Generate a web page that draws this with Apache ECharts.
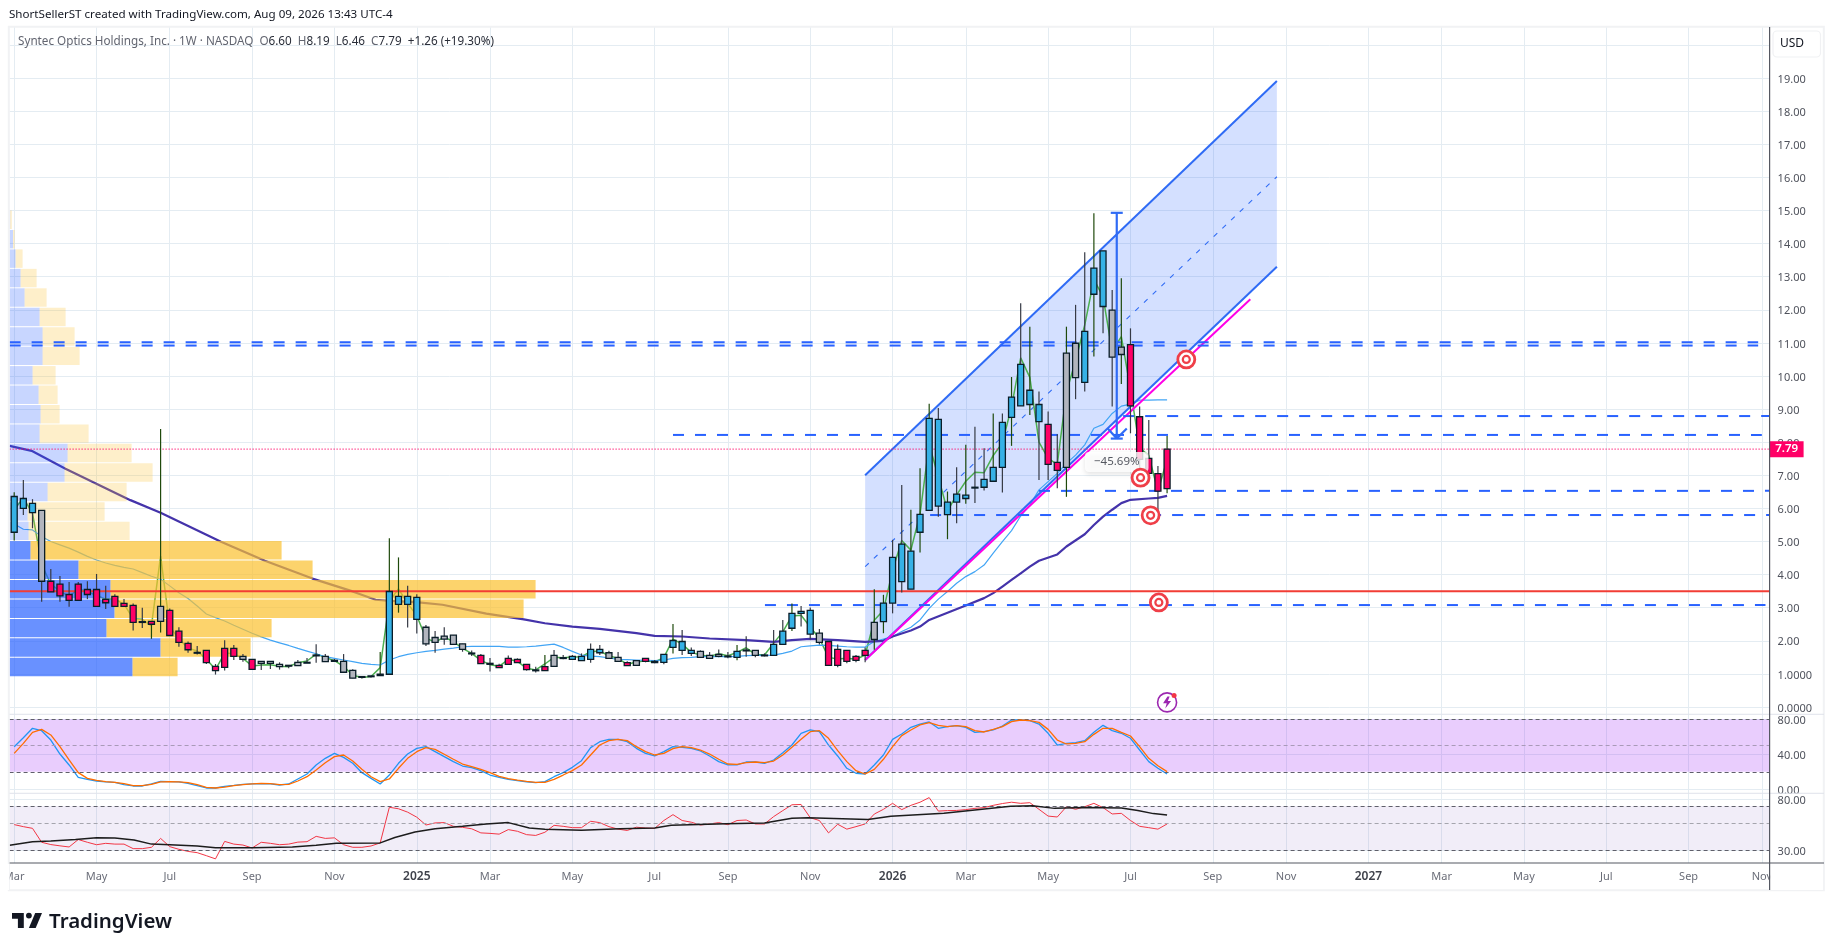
<!DOCTYPE html>
<html><head><meta charset="utf-8">
<style>html,body{margin:0;padding:0;background:#fff;overflow:hidden}#c{width:1835px;height:951px}</style>
<script src="https://cdn.jsdelivr.net/npm/echarts@6/dist/echarts.min.js"></script>
</head><body><div id="c"></div>
<script>
// Weekly bars: week 0 = 2024-03-04, week 126 = 2026-08-03
const open=[5.28,6.00,6.15,5.94,3.80,3.71,3.40,3.22,3.55,3.55,3.25,3.04,3.13,3.07,2.58,2.59,2.59,2.92,2.29,1.92,1.65,1.71,1.23,1.20,1.77,1.53,1.44,1.38,1.38,1.29,1.26,1.25,1.35,1.55,1.53,1.41,1.38,1.11,0.92,0.94,0.99,0.99,3.10,3.10,3.31,2.41,1.95,2.05,2.17,1.91,1.63,1.56,1.32,1.26,1.29,1.44,1.29,1.12,1.10,1.23,1.49,1.44,1.53,1.44,1.74,1.64,1.50,1.34,1.26,1.47,1.38,1.35,1.80,1.98,1.71,1.68,1.56,1.53,1.54,1.50,1.72,1.71,1.57,1.56,1.89,2.38,2.83,2.92,2.23,1.98,1.74,1.71,1.53,1.56,2.04,2.58,3.14,3.79,3.56,5.28,5.94,8.69,5.81,6.19,6.30,6.64,6.64,6.82,7.24,8.75,9.10,9.14,9.14,8.54,7.39,7.24,10.99,9.81,12.47,13.78,11.99,10.65,10.95,8.77,7.51,7.05,6.60];
const high=[6.49,6.86,6.28,5.94,4.17,3.96,3.78,3.78,3.80,4.02,3.66,3.41,3.26,3.13,3.00,2.59,8.40,2.98,2.41,1.98,1.84,1.71,1.30,2.02,1.87,1.60,1.44,1.38,1.38,1.35,1.26,1.42,1.48,1.90,1.60,1.45,1.60,1.14,0.92,0.94,1.66,5.10,4.52,3.66,3.41,2.48,2.30,2.41,2.17,1.91,1.71,1.60,1.48,1.31,1.56,1.47,1.29,1.22,1.57,1.72,1.57,1.57,1.62,1.92,1.87,1.70,1.66,1.38,1.42,1.47,1.42,1.60,2.51,2.33,1.80,1.71,1.66,1.74,1.66,1.87,2.14,1.71,1.62,2.33,2.63,3.13,3.05,3.01,2.36,1.98,1.89,1.71,1.57,1.80,3.56,3.39,5.05,6.71,5.96,7.21,9.16,9.03,6.51,7.24,7.92,8.47,7.82,8.87,8.87,9.97,12.20,11.49,9.53,8.93,8.24,11.49,12.15,13.74,14.92,13.78,12.60,12.95,11.44,9.08,8.67,7.28,8.19];
const low=[5.03,5.80,5.40,3.18,3.48,3.18,3.03,3.22,3.26,3.04,2.96,3.04,3.04,2.31,2.39,2.06,2.25,2.16,1.82,1.64,1.59,1.30,0.98,1.10,1.42,1.37,1.14,1.12,1.15,1.13,1.17,1.25,1.33,1.34,1.37,1.36,1.05,0.87,0.86,0.89,0.95,0.99,2.85,2.40,2.22,1.84,1.64,1.88,1.89,1.67,1.54,1.31,1.07,1.19,1.29,1.34,1.10,1.04,1.10,1.23,1.44,1.44,1.40,1.34,1.57,1.47,1.38,1.25,1.26,1.35,1.32,1.29,1.62,1.57,1.54,1.50,1.47,1.50,1.47,1.41,1.52,1.50,1.53,1.56,1.89,2.30,2.43,2.04,1.89,1.26,1.20,1.32,1.35,1.35,1.73,2.23,2.83,3.46,3.56,4.67,5.94,5.75,5.07,5.55,6.14,6.16,6.54,6.82,6.48,7.89,9.10,8.82,6.86,6.86,6.61,6.35,9.30,9.53,10.59,11.29,9.08,9.76,8.27,6.91,7.06,5.76,6.46];
const close=[6.36,6.30,5.87,3.80,3.48,3.36,3.22,3.71,3.40,3.04,3.15,3.34,3.04,2.56,2.56,2.50,3.04,2.16,1.95,1.73,1.63,1.34,1.10,1.77,1.53,1.44,1.14,1.32,1.32,1.22,1.24,1.35,1.33,1.57,1.37,1.38,1.05,0.87,0.90,0.92,0.95,3.49,3.34,3.34,2.65,1.91,2.10,2.14,1.89,1.74,1.61,1.31,1.29,1.19,1.47,1.34,1.13,1.10,1.22,1.56,1.47,1.53,1.40,1.74,1.64,1.47,1.38,1.25,1.40,1.38,1.34,1.59,2.01,1.71,1.62,1.50,1.47,1.59,1.52,1.68,1.70,1.56,1.55,1.89,2.29,2.83,2.89,2.20,1.95,1.26,1.26,1.38,1.41,1.71,2.56,3.14,4.52,4.92,4.71,5.82,8.72,6.07,6.19,6.43,6.40,6.62,6.88,7.24,8.60,9.36,10.35,9.57,8.62,7.33,7.15,10.69,9.95,11.35,13.26,12.10,10.57,10.87,9.10,7.48,7.06,6.52,7.79];
// candle body tone: 0 blue, 1 pink, 2 grey
const tone=[0,0,0,2,1,1,1,1,1,1,1,1,1,1,0,1,2,1,1,1,0,1,1,1,1,2,1,2,2,2,2,2,0,0,2,0,2,2,0,0,0,0,0,0,0,2,2,2,2,2,0,1,0,1,1,1,1,0,1,2,0,0,0,0,0,2,2,1,2,1,0,0,0,0,0,2,2,2,0,0,0,2,0,0,0,0,0,0,2,1,1,1,1,1,2,0,0,0,0,0,0,0,0,0,0,0,0,0,0,0,0,0,0,1,1,2,2,0,0,0,2,2,1,1,1,1,1];
const greenWickWeeks=[0,15,16,40,41,42,58,72,79,85,94,95,98,99,100,102,104,107,109,111,115,118,121,126];
// typical-price line
const typical=[5.96,6.32,5.85,4.31,3.71,3.50,3.34,3.57,3.49,3.37,3.26,3.26,3.11,2.67,2.65,2.45,4.56,2.43,2.06,1.78,1.69,1.45,1.13,1.63,1.61,1.47,1.24,1.27,1.28,1.23,1.22,1.34,1.39,1.60,1.50,1.40,1.23,0.96,0.89,0.92,1.19,3.19,3.57,3.13,2.76,2.08,1.96,2.11,1.98,1.77,1.62,1.41,1.28,1.23,1.44,1.38,1.17,1.12,1.30,1.50,1.49,1.51,1.52,1.67,1.69,1.55,1.47,1.29,1.36,1.40,1.36,1.49,2.05,1.90,1.65,1.57,1.53,1.61,1.55,1.65,1.79,1.59,1.57,1.93,2.27,2.75,2.77,2.42,2.07,1.50,1.45,1.47,1.44,1.57,2.62,2.92,4.13,5.03,4.74,5.83,7.94,6.95,5.92,6.41,6.82,7.09,7.08,7.60,7.98,9.07,10.55,9.96,8.00,7.51,7.33,9.51,10.47,11.54,12.92,12.39,10.75,11.19,9.60,7.82,7.60,6.52,7.48];
const fastMa=[5.53,5.37,5.35,5.15,5.00,4.90,4.80,4.68,4.55,4.44,4.35,4.28,4.22,4.17,4.06,3.95,3.86,3.66,3.45,3.28,3.05,2.81,2.70,2.60,2.47,2.35,2.23,2.12,2.02,1.94,1.86,1.77,1.69,1.61,1.52,1.47,1.42,1.37,1.32,1.29,1.27,1.42,1.52,1.59,1.64,1.68,1.71,1.75,1.78,1.82,1.83,1.83,1.83,1.83,1.81,1.81,1.82,1.84,1.87,1.90,1.80,1.68,1.57,1.54,1.52,1.48,1.44,1.43,1.42,1.41,1.40,1.42,1.47,1.49,1.50,1.52,1.52,1.52,1.52,1.53,1.55,1.56,1.56,1.57,1.62,1.69,1.82,1.85,1.87,1.86,1.84,1.82,1.81,1.81,1.98,2.05,2.13,2.28,2.41,2.63,2.98,3.26,3.49,3.74,3.94,4.09,4.29,4.65,5.00,5.33,5.77,6.10,6.56,6.81,7.06,7.36,7.61,7.92,8.42,8.54,8.87,9.09,9.15,9.27,9.27,9.28,9.28];
const slowMaWeeks=[-0.5,1.9,5.6,12.7,16,22.6,27.4,32.6,36.9,39.5,40.8,44.2,46.8,51.6,55.7,58,61,64,68,70,73,76,80,83,85,87,90,93,95,96,98,99,100,102,104,106,107,108,109,110,111,112,114,115,117,118,119,120,121,122,124,125,126];
const slowMa=[7.89,7.74,7.20,6.25,5.87,4.99,4.42,3.88,3.50,3.24,3.21,3.16,3.09,2.82,2.65,2.53,2.43,2.36,2.23,2.15,2.13,2.07,2.02,1.97,2.02,2.06,2.02,1.97,2.00,2.13,2.31,2.43,2.63,2.85,3.07,3.29,3.44,3.64,3.84,4.04,4.24,4.42,4.61,4.85,5.22,5.50,5.75,5.96,6.16,6.26,6.30,6.32,6.38];
// visible-range volume profile, price rows bottom to top
const vpFirstPrice=0.915, vpRowStep=0.5875;
const vpUp=[123,151,97,105,101,69,21,19,18,38,55,58,30,31,29,23,33,33,30,15,11,6,3.4,0.6];
const vpDown=[45,90,165,409,425,234,251,101,77,79,88,64,49,19,19,23,37,32,26,22,16,7,1.6,1.6];
const vpValueAreaRows=7;
// drawings
const channelWeeks=[93,138], channelUpper=[7.0,18.91], channelMiddle=[4.24,16.02], channelLower=[1.42,13.3];
const magentaWeeks=[93,135.1], magentaPrices=[1.42,12.32];
const levelPrices=[11.02,10.92,8.79,8.22,6.53,5.80,3.08];
const levelFrom=[-0.5,-0.5,121.2,72,112,100.1,82.05];
const levelTo=[190.6,190.6,191.85,191,191.85,191.85,191.4];
const supportPrice=3.5, lastPrice=7.79;
const targetPoints=[[128.1,10.5],[123.1,6.93],[124.2,5.79],[125.1,3.16]];
const rangeWeek=120.5, rangeTop=14.93, rangeBottom=8.11, rangeLabel='\u221245.69%', rangeLabelPrice=7.4;
// stochastic RSI
const stochK=[48.7,59.0,69.7,67.0,56.3,40.3,27.8,13.7,11.4,9.5,8.4,8.0,5.3,3.8,3.8,6.1,9.1,8.7,8.4,6.8,4.2,1.5,1.5,3.4,4.5,5.7,6.1,6.5,6.1,4.9,6.1,11.8,17.5,27.8,35.4,41.1,36.5,29.7,19.0,12.5,6.1,16.3,29.7,40.3,46.8,48.7,43.0,37.3,31.6,26.6,24.7,21.3,16.3,13.7,11.4,9.9,8.4,7.6,8.7,14.4,19.0,25.1,32.7,47.6,54.4,57.1,57.1,54.4,46.8,41.1,38.1,43.0,48.7,48.0,46.8,43.8,38.1,31.6,27.8,27.8,31.2,31.2,29.7,33.5,41.9,50.6,64.0,67.8,65.9,50.6,38.1,24.0,18.3,17.5,27.8,39.2,57.1,63.2,70.8,74.6,76.9,69.7,71.6,72.7,70.8,65.1,65.9,67.8,72.3,79.2,79.2,78.5,74.6,64.0,50.6,52.5,53.3,55.6,65.1,73.1,67.0,64.0,58.3,44.9,31.6,24.0,17.5];
const stochD=[41.1,52.5,65.1,68.5,62.1,48.7,33.5,19.0,12.5,10.2,8.7,8.0,6.5,4.2,4.2,5.7,8.4,8.7,8.4,7.6,5.3,2.3,1.5,2.6,4.2,5.3,6.1,6.8,6.5,5.3,5.7,9.5,14.4,22.1,30.4,37.3,39.2,32.3,22.8,14.4,8.7,11.8,24.0,35.4,43.0,47.6,45.7,40.0,34.3,28.9,25.9,22.8,19.0,14.8,12.2,10.6,9.1,8.0,8.0,11.4,16.3,21.3,27.8,39.2,50.6,55.6,57.1,55.6,48.7,43.0,39.2,41.1,46.5,48.7,47.6,44.9,40.3,34.3,28.9,28.5,30.4,31.2,30.4,32.3,39.2,48.0,57.1,65.9,67.0,58.3,44.2,31.6,21.3,17.5,22.8,34.3,48.7,61.3,67.8,73.5,76.2,73.1,71.6,72.7,71.6,67.0,65.5,68.5,71.6,77.3,79.2,78.5,76.5,68.5,56.3,51.8,52.5,54.4,62.8,69.7,69.7,65.1,60.9,48.7,35.4,27.0,20.2];
// RSI and its moving average (lower pane is on a log scale)
const rsi=[48.9,47.0,45.5,34.8,33.3,32.5,31.8,36.7,34.8,33.2,34.1,33.6,33.6,30.8,30.8,31.6,37.5,32.0,30.4,29.2,28.5,26.9,25.3,35.4,33.6,33.0,31.2,34.8,34.1,33.2,33.6,34.9,35.2,39.0,37.5,37.9,33.2,31.6,31.6,32.4,34.4,68.2,66.3,62.1,56.4,48.5,50.5,50.8,47.3,46.4,45.1,41.7,41.3,40.7,44.4,43.0,40.3,39.7,42.2,48.2,47.3,46.1,46.1,52.1,50.8,47.0,44.8,43.7,46.5,45.8,45.5,52.9,59.2,52.9,51.2,48.5,49.5,50.8,48.8,52.9,53.4,49.5,49.5,57.0,64.0,71.6,72.0,55.8,52.9,41.7,49.2,44.8,47.0,49.5,59.9,65.6,73.6,65.2,70.8,75.2,82.2,63.4,64.0,64.2,65.2,66.8,67.8,70.8,73.3,75.2,73.6,74.5,65.6,57.6,56.6,69.0,65.6,69.0,73.6,67.8,60.0,60.7,52.9,47.3,46.1,44.8,49.5];
const rsiMaWeeks=[-0.5,2,4,6.7,9,11,13.1,15,17,20,22,26,30.4,33,35.2,40,41.6,43.8,46,49,51.6,54,56.3,58,62,66.2,70,71.8,77.8,82,85,86.8,93.3,95.8,101.6,106.3,108.9,111.3,113.7,117.1,121,122.8,124.5,126];
const rsiMa=[32.8,35.2,35.7,36.7,38.0,37.7,36.4,33.6,33.2,32.4,31.4,31.4,31.8,32.8,34.1,34.4,38.2,42.4,45.2,47.3,49.5,50.8,45.8,44.8,43.9,45.2,45.8,48.2,49.8,50.5,55.2,55.9,53.9,57.4,60.7,66.3,69.5,70.4,66.8,67.8,67.3,64.2,60.4,58.8];
// axis ticks
const timeTickWeeks=[0,9,17,26,35,44,52,61,70,78,87,96,104,113,122,131,139,148,156,165,174,183,191];
const timeTickLabels=['Mar','May','Jul','Sep','Nov','2025','Mar','May','Jul','Sep','Nov','2026','Mar','May','Jul','Sep','Nov','2027','Mar','May','Jul','Sep','Nov'];
const priceTicks=[0,1,2,3,4,5,6,7,8,9,10,11,12,13,14,15,16,17,18,19,20];
const priceTickLabels=['0.0000','1.0000','2.00','3.00','4.00','5.00','6.00','7.00','8.00','9.00','10.00','11.00','12.00','13.00','14.00','15.00','16.00','17.00','18.00','19.00',''];
const stochTicks=[0,40,80], stochTickLabels=['0.00','40.00','80.00'];
const rsiTicks=[30,80], rsiTickLabels=['30.00','80.00'];
const headerText='ShortSellerST created with TradingView.com, Aug 09, 2026 13:43 UTC-4';
const symbolText='Syntec Optics Holdings, Inc. \u00b7 1W \u00b7 NASDAQ';
const ohlcText=[['O','6.60'],['H','8.19'],['L','6.46'],['C','7.79']], changeText='+1.26 (+19.30%)';

const FONT='"Noto Sans",sans-serif';
const BLUE='#2962ff', GRID='#e4ecf2', AXIS='#555862', LABEL='#4f525c';
const L=9.6,R=1769.6,XMIN=-0.503,XMAX=191.85;
const chart=echarts.init(document.getElementById('c'),null,{renderer:'canvas'});
const toneFill=['#36b1e6','#ff0066','#b2b5be'];
const pts=(xs,ys)=>xs.map((x,i)=>[x,ys[i]]);
const byWeek=a=>a.map((v,i)=>[i,v]);
const line=(id,data,color,width,z,extra)=>Object.assign({type:'line',name:id,data,symbol:'none',silent:true,z,
  lineStyle:{color,width},xAxisIndex:0,yAxisIndex:0,animation:false},extra||{});

function weekAxis(gridIndex,showLabels){
  return {type:'value',gridIndex,min:XMIN,max:XMAX,position:'bottom',
    axisLine:{show:false},
    axisTick:{show:false,customValues:timeTickWeeks},
    splitLine:{show:true,lineStyle:{color:GRID,width:1}},
    axisLabel:{show:showLabels,customValues:timeTickWeeks,margin:8,fontFamily:FONT,fontSize:11,color:'#6a6d78',
      showMinLabel:true,showMaxLabel:true,hideOverlap:false,
      rich:{y:{fontFamily:FONT,fontSize:12,fontWeight:600,color:'#3f424b'}},
      formatter:v=>{const s=timeTickLabels[timeTickWeeks.indexOf(v)];return /^\d/.test(s)?'{y|'+s+'}':s;}}};
}
function sideAxis(gridIndex,min,max,ticks,labels,toTick){
  const vals=toTick?ticks.map(toTick):ticks;
  return {type:'value',gridIndex,position:'right',min,max,scale:true,
    axisLine:{show:false},
    axisTick:{show:false,customValues:vals},
    splitLine:{show:true,lineStyle:{color:GRID,width:1}},
    axisLabel:{customValues:vals,margin:8,fontFamily:FONT,fontSize:11,color:LABEL,align:'left',
      showMinLabel:true,showMaxLabel:true,hideOverlap:false,
      rich:{p:{fontFamily:FONT,fontSize:11,color:LABEL,padding:[3,0,0,0]}},
      formatter:v=>{const s=labels[vals.findIndex(t=>Math.abs(t-v)<1e-6)];return s?'{p|'+s+'}':'';}}};
}
function drawCandle(p,api){
  const i=api.value(0),o=api.value(1),h=api.value(2),l=api.value(3),c=api.value(4),t=api.value(5),g=api.value(6);
  const top=api.coord([i,Math.max(o,c)]),bot=api.coord([i,Math.min(o,c)]),hi=api.coord([i,h]),lo=api.coord([i,l]);
  const x=top[0];
  return {type:'group',children:[
    {type:'line',shape:{x1:x,y1:hi[1],x2:x,y2:lo[1]},style:{stroke:g?'#1f4a0c':'#363a45',lineWidth:1.2}},
    {type:'rect',shape:{x:x-3,y:top[1],width:6,height:Math.max(bot[1]-top[1],0.8)},style:{fill:toneFill[t],stroke:'#0a1d28',lineWidth:1.3}}
  ]};
}
function drawVp(p,api){
  const low=api.value(0),high=api.value(1),up=api.value(2),down=api.value(3),dark=api.value(4);
  const a=api.coord([0,low]),b=api.coord([up,high]),c=api.coord([up+down,high]);
  const y=b[1]+0.5,h=a[1]-b[1]-1;
  return {type:'group',children:[
    {type:'rect',shape:{x:a[0],y,width:b[0]-a[0],height:h},style:{fill:dark?'rgba(41,98,255,0.7)':'rgba(41,98,255,0.26)'}},
    {type:'rect',shape:{x:b[0],y,width:c[0]-b[0],height:h},style:{fill:dark?'rgba(251,192,45,0.7)':'rgba(251,192,45,0.25)'}}
  ]};
}
function drawChannel(p,api){
  const pt=[api.coord([channelWeeks[0],channelUpper[0]]),api.coord([channelWeeks[1],channelUpper[1]]),
            api.coord([channelWeeks[1],channelLower[1]]),api.coord([channelWeeks[0],channelLower[0]])];
  return {type:'polygon',shape:{points:pt},style:{fill:'rgba(41,98,255,0.2)'}};
}
function drawRange(p,api){
  const t=api.coord([rangeWeek,rangeTop]),b=api.coord([rangeWeek,rangeBottom]),x=t[0];
  const st={stroke:'#2f6bf5',lineWidth:2.2};
  const seg=(x1,y1,x2,y2)=>({type:'line',shape:{x1,y1,x2,y2},style:st});
  return {type:'group',children:[seg(x,t[1],x,b[1]),seg(x-6,t[1],x+6,t[1]),seg(x-6,b[1],x+6,b[1]),seg(x-9,b[1]-10,x,b[1]),seg(x+10,b[1]-10,x,b[1])]};
}
const vpRows=vpUp.map((u,k)=>[vpFirstPrice+k*vpRowStep,vpFirstPrice+(k+1)*vpRowStep,u,vpDown[k],k<vpValueAreaRows?1:0]);
const candles=open.map((o,i)=>[i,o,high[i],low[i],close[i],tone[i],greenWickWeeks.includes(i)?1:0]);

const series=[
  {type:'custom',name:'channel',renderItem:drawChannel,data:[[channelWeeks[0],channelUpper[0]]],xAxisIndex:0,yAxisIndex:0,z:1,silent:true},
  line('Channel middle',pts(channelWeeks,channelMiddle),'#2f6bf5',1,1,{lineStyle:{color:'#2f6bf5',width:1.1,type:[5,7]}}),
  line('Typical',byWeek(typical),'#4caf50',1.5,2),
  line('Fast MA',byWeek(fastMa),'#42a5f5',1.2,2),
  line('Slow MA',pts(slowMaWeeks,slowMa),'#4433aa',2.2,2),
  {type:'custom',name:'Volume profile',renderItem:drawVp,data:vpRows,xAxisIndex:1,yAxisIndex:0,z:3,silent:true,encode:{x:2,y:[0,1]}},
  line('Channel upper',pts(channelWeeks,channelUpper),'#2f6bf5',2,4),
  line('Channel lower',pts(channelWeeks,channelLower),'#2f6bf5',2,4),
  line('Trend',pts(magentaWeeks,magentaPrices),'#ff00e6',2,4),
  line('Support',[[XMIN,supportPrice],[XMAX,supportPrice]],'#f23d35',2,4),
  line('Last price',[[XMIN,lastPrice],[XMAX,lastPrice]],'#ff0066',1,4,{lineStyle:{color:'#ff0066',width:1.2,type:[1,2]}}),
  ...levelPrices.map((p,k)=>line('Level '+p,[[levelFrom[k],p],[levelTo[k],p]],BLUE,2,4,{lineStyle:{color:BLUE,width:2,type:[11,11]}})),
  {type:'custom',name:'Candles',renderItem:drawCandle,data:candles,xAxisIndex:0,yAxisIndex:0,z:5,silent:true,encode:{x:0,y:[1,2,3,4]}},
  {type:'custom',name:'Range',renderItem:drawRange,data:[[rangeWeek,rangeTop]],xAxisIndex:0,yAxisIndex:0,z:6,silent:true},
  {type:'scatter',name:'Range label',data:[[rangeWeek,rangeLabelPrice]],symbolSize:0,z:7,silent:true,xAxisIndex:0,yAxisIndex:0,
    label:{show:true,position:'inside',formatter:rangeLabel,fontFamily:FONT,fontSize:11.5,color:'#2a2e39',backgroundColor:'#fff',
      padding:[4,9],borderRadius:4,shadowColor:'rgba(0,0,0,0.14)',shadowBlur:5,shadowOffsetY:2}},
  {type:'scatter',name:'Targets',data:targetPoints,symbol:'circle',symbolSize:17,z:8,silent:true,xAxisIndex:0,yAxisIndex:0,
    itemStyle:{opacity:1,color:'#fff',borderColor:'#ef3f48',borderWidth:2.8}},
  {type:'scatter',name:'Targets inner',data:targetPoints,symbol:'circle',symbolSize:7,z:9,silent:true,xAxisIndex:0,yAxisIndex:0,
    itemStyle:{opacity:1,color:'#fff',borderColor:'#ef3f48',borderWidth:2.2}},
  {type:'scatter',name:'Alert',data:[[126,0.14]],symbol:'circle',symbolSize:19,z:8,silent:true,xAxisIndex:0,yAxisIndex:0,
    itemStyle:{opacity:1,color:'#fff',borderColor:'#9c27b0',borderWidth:1.6}},
  {type:'scatter',name:'Alert bolt',data:[[126,0.14]],symbol:'path://M7 0 L1 9 H6 L4 16 L12 6 H7.5 L10 0 Z',symbolSize:[8,12],z:9,silent:true,xAxisIndex:0,yAxisIndex:0,
    itemStyle:{opacity:1,color:'#9c27b0'}},
  {type:'scatter',name:'Alert dot',data:[[126,0.14]],symbol:'circle',symbolSize:5,symbolOffset:[7,-7],z:10,silent:true,xAxisIndex:0,yAxisIndex:0,
    itemStyle:{opacity:1,color:'#f23645'}},
  {type:'scatter',name:'Price tag',data:[[XMAX,lastPrice]],symbol:'rect',symbolSize:[34,16],symbolOffset:[17,0],clip:false,z:12,silent:true,xAxisIndex:0,yAxisIndex:0,
    itemStyle:{opacity:1,color:'#ff0066'},
    label:{show:true,position:'inside',formatter:lastPrice.toFixed(2),color:'#fff',fontFamily:FONT,fontSize:11.5,fontWeight:600}},
  // stochastic pane
  {type:'line',name:'%K',data:byWeek(stochK),symbol:'none',silent:true,xAxisIndex:2,yAxisIndex:1,z:4,lineStyle:{color:'#2196f3',width:1.3},
    markArea:{silent:true,itemStyle:{color:'rgba(150,20,245,0.21)'},data:[[{yAxis:80},{yAxis:20}]]},
    markLine:{silent:true,symbol:'none',animation:false,label:{show:false},
      data:[{yAxis:80,lineStyle:{color:'#5f5f6a',width:1,type:[4,3]}},{yAxis:50,lineStyle:{color:'#a99ab8',width:1,type:[4,3]}},{yAxis:20,lineStyle:{color:'#5f5f6a',width:1,type:[4,3]}}]}},
  {type:'line',name:'%D',data:byWeek(stochD),symbol:'none',silent:true,xAxisIndex:2,yAxisIndex:1,z:5,lineStyle:{color:'#ff6d00',width:1.3}},
  // RSI pane (natural-log axis)
  {type:'line',name:'RSI',data:rsi.map((v,i)=>[i,Math.log(v)]),symbol:'none',silent:true,xAxisIndex:3,yAxisIndex:2,z:4,lineStyle:{color:'#f23645',width:1},
    markArea:{silent:true,itemStyle:{color:'rgba(126,87,194,0.11)'},data:[[{yAxis:Math.log(70)},{yAxis:Math.log(30)}]]},
    markLine:{silent:true,symbol:'none',animation:false,label:{show:false},
      data:[{yAxis:Math.log(70),lineStyle:{color:'#5f5f6a',width:1,type:[4,3]}},{yAxis:Math.log(50),lineStyle:{color:'#a5a5ad',width:1,type:[4,3]}},{yAxis:Math.log(30),lineStyle:{color:'#5f5f6a',width:1,type:[4,3]}}]}},
  {type:'line',name:'RSI MA',data:rsiMaWeeks.map((w,k)=>[w,Math.log(rsiMa[k])]),symbol:'none',silent:true,xAxisIndex:3,yAxisIndex:2,z:5,lineStyle:{color:'#1c1c1c',width:1.5}}
];

const gridBase={left:L,width:R-L,outerBoundsMode:'none',containLabel:false,show:false};
const hline=(y,x1,x2,c,w)=>({type:'line',z:100,silent:true,shape:{x1,y1:y,x2,y2:y},style:{stroke:c,lineWidth:w||1}});
const mask=(x,y,width,height)=>({type:'rect',z:99,silent:true,shape:{x,y,width,height},style:{fill:'#fff'}});

chart.setOption({
  animation:false,backgroundColor:'#fff',
  title:[
    {text:headerText,left:9,top:9,padding:0,textStyle:{fontFamily:FONT,fontSize:11.6,fontWeight:'normal',color:'#131722'}},
    {text:[`{s|${symbolText}}  `,...ohlcText.map(([a,b])=>`{s|${a}}{d|${b}}  `),`{d|${changeText}}`].join(''),left:18,top:36,padding:0,
      textStyle:{fontFamily:FONT,fontSize:11.7,fontWeight:'normal',rich:{s:{fontFamily:FONT,fontSize:11.7,color:'#626570'},d:{fontFamily:FONT,fontSize:11.7,color:'#2a2e39'}}}}
  ],
  tooltip:{show:false},
  grid:[Object.assign({top:27,height:687.3},gridBase),Object.assign({top:714.3,height:79},gridBase),Object.assign({top:793.3,height:69.7},gridBase)],
  xAxis:[weekAxis(0,false),
    {type:'value',gridIndex:0,min:0,max:R-L,show:false,splitLine:{show:false}},
    weekAxis(1,false),weekAxis(2,true)],
  yAxis:[sideAxis(0,-0.22,20.544,priceTicks,priceTickLabels),
    sideAxis(1,-4.57,85.71,stochTicks,stochTickLabels),
    sideAxis(2,3.1512,4.4916,rsiTicks,rsiTickLabels,Math.log)],
  series,
  graphic:[
    mask(0,864,9,26),mask(R+0.5,864,53,26),
    {type:'rect',z:98,silent:true,shape:{x:8.8,y:26.8,width:1815,height:863.5},style:{fill:'none',stroke:'#f1f2f4',lineWidth:2}},
    hline(714.3,L,1824,'#e0e3eb'),hline(793.3,L,1824,'#e0e3eb'),hline(863,L,1824,AXIS,1.2),
    {type:'line',z:100,silent:true,shape:{x1:R,y1:27,x2:R,y2:890},style:{stroke:AXIS,lineWidth:1.2}},
    {type:'rect',z:100,silent:true,shape:{x:1773,y:31,width:47.5,height:26,r:4},style:{fill:'#fff',stroke:'#f0f1f3',lineWidth:1.2}},
    {type:'text',z:101,silent:true,x:1792,y:44,style:{text:'USD',font:'12px '+FONT,fill:'#131722',align:'center',verticalAlign:'middle'}},
    {type:'polygon',z:101,silent:true,shape:{points:[[12,913],[23.8,913],[23.8,928],[17.9,928],[17.9,918.8],[12,918.8]]},style:{fill:'#131722'}},
    {type:'polygon',z:101,silent:true,shape:{points:[[28.9,928],[35.7,928],[42,913],[35.2,913]]},style:{fill:'#131722'}},
    {type:'circle',z:101,silent:true,shape:{cx:28.9,cy:915.6,r:2.9},style:{fill:'#131722'}},
    {type:'text',z:101,silent:true,x:49,y:922,style:{text:'TradingView',font:'600 20.5px '+FONT,fill:'#131722',verticalAlign:'middle'}}
  ]
});
</script></body></html>
